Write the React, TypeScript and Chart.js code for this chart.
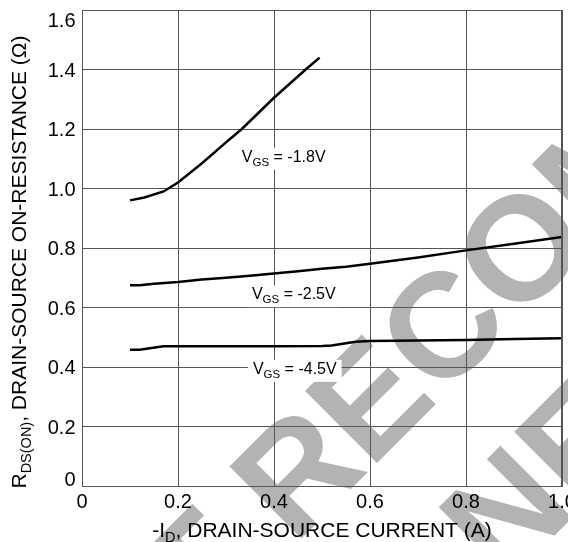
import React, { useEffect, useRef } from 'react';
import { Chart, registerables } from 'chart.js';

Chart.register(...registerables);

// ---- data ----
const xTicks = [0, 0.2, 0.4, 0.6, 0.8, 1.0];
const yTicks = [0, 0.2, 0.4, 0.6, 0.8, 1.0, 1.2, 1.4, 1.6];

const id18 = [0.1, 0.13, 0.17, 0.2, 0.25, 0.3, 0.333, 0.4, 0.466, 0.495];
const r18 = [0.96, 0.97, 0.99, 1.02, 1.085, 1.155, 1.2, 1.305, 1.4, 1.44];

const id25 = [0.1, 0.12, 0.15, 0.2, 0.25, 0.3, 0.35, 0.4, 0.45, 0.5, 0.55, 0.6, 0.7, 0.8, 0.9, 1.0];
const r25 = [0.675, 0.675, 0.68, 0.686, 0.694, 0.7, 0.707, 0.714, 0.722, 0.73, 0.737, 0.747, 0.768, 0.792, 0.814, 0.837];

const id45 = [0.1, 0.12, 0.17, 0.25, 0.3, 0.4, 0.5, 0.52, 0.57, 0.6, 0.7, 0.8, 0.9, 1.0];
const r45 = [0.458, 0.458, 0.47, 0.47, 0.47, 0.47, 0.471, 0.472, 0.485, 0.487, 0.489, 0.491, 0.494, 0.497];

const seriesNames = ['VGS = -1.8V', 'VGS = -2.5V', 'VGS = -4.5V'];
const curveLabels = [
  { main: 'V', sub: 'GS', rest: ' = -1.8V', x: 0.333, y: 1.09 },
  { main: 'V', sub: 'GS', rest: ' = -2.5V', x: 0.354, y: 0.628 },
  { main: 'V', sub: 'GS', rest: ' = -4.5V', x: 0.356, y: 0.377 },
];

const xTitle = [
  { t: '-I', sub: false },
  { t: 'D', sub: true },
  { t: ', DRAIN-SOURCE CURRENT (A)', sub: false },
];
const yTitle = [
  { t: 'R', sub: false },
  { t: 'DS(ON)', sub: true },
  { t: ', DRAIN-SOURCE ON-RESISTANCE (\u03A9)', sub: false },
];

const watermarkLines = ['NOT RECOMMENDED', 'FOR NEW DESIGN'];

const FAMILY = "'Liberation Sans', Arial, Helvetica, sans-serif";

const fmt = (v: number) => (Math.abs(v) < 1e-9 ? '0' : v.toFixed(1));

type Part = { t: string; sub: boolean };

function partsWidth(ctx: CanvasRenderingContext2D, parts: Part[], size: number, subSize: number) {
  let w = 0;
  for (const p of parts) {
    ctx.font = `${p.sub ? subSize : size}px ${FAMILY}`;
    w += ctx.measureText(p.t).width;
  }
  return w;
}

function drawParts(ctx: CanvasRenderingContext2D, parts: Part[], x: number, y: number, size: number, subSize: number, subShift: number) {
  let cx = x;
  for (const p of parts) {
    ctx.font = `${p.sub ? subSize : size}px ${FAMILY}`;
    ctx.fillText(p.t, cx, p.sub ? y + subShift : y);
    cx += ctx.measureText(p.t).width;
  }
  return cx - x;
}

const watermarkPlugin = {
  id: 'watermark',
  beforeDraw(chart: any) {
    const ctx: CanvasRenderingContext2D = chart.ctx;
    ctx.save();
    ctx.fillStyle = '#b3b3b3';
    ctx.font = `bold 148px ${FAMILY}`;
    ctx.textBaseline = 'alphabetic';
    ctx.textAlign = 'left';
    const r2 = Math.SQRT2;
    // line 1: baseline along x+y = 824, 'RECOMMENDED' starting at s = -177.5
    const s1 = -177.5 - ctx.measureText('NOT ').width;
    const center = s1 + ctx.measureText(watermarkLines[0]).width / 2;
    const s2 = center - ctx.measureText(watermarkLines[1]).width / 2;
    const place = (k: number, s: number, text: string) => {
      ctx.save();
      ctx.translate((k + s * r2) / 2, (k - s * r2) / 2);
      ctx.rotate(-Math.PI / 4);
      ctx.fillText(text, 0, 0);
      ctx.restore();
    };
    place(824, s1, watermarkLines[0]);
    place(1074, s2, watermarkLines[1]);
    ctx.restore();
  },
};

const annotPlugin = {
  id: 'annot',
  afterDraw(chart: any) {
    const ctx: CanvasRenderingContext2D = chart.ctx;
    const xs = chart.scales.x;
    const ys = chart.scales.y;
    const area = chart.chartArea;
    ctx.save();
    ctx.fillStyle = '#000';
    ctx.textAlign = 'left';
    ctx.textBaseline = 'alphabetic';

    // right border heavier
    ctx.strokeStyle = '#555';
    ctx.lineWidth = 2;
    ctx.beginPath();
    ctx.moveTo(Math.round(area.right), area.top);
    ctx.lineTo(Math.round(area.right), area.bottom);
    ctx.stroke();

    // curve labels
    for (const l of curveLabels) {
      const px = xs.getPixelForValue(l.x);
      const py = ys.getPixelForValue(l.y);
      const parts: Part[] = [
        { t: l.main, sub: false },
        { t: l.sub, sub: true },
        { t: l.rest, sub: false },
      ];
      const w = partsWidth(ctx, parts, 16, 11.5);
      ctx.fillStyle = '#fff';
      ctx.fillRect(px - 5, py - 14, w + 10, 22);
      ctx.fillStyle = '#000';
      drawParts(ctx, parts, px, py, 16, 11.5, 4);
    }

    // y tick labels
    ctx.font = `20px ${FAMILY}`;
    ctx.textAlign = 'right';
    const maxY = yTicks[yTicks.length - 1];
    for (const v of yTicks) {
      const p = ys.getPixelForValue(v);
      let base = p + 7.2;
      if (v === maxY) base = p + 17.3;
      else if (v === 0) base = p;
      ctx.fillText(fmt(v), area.left - 6.5, base);
    }
    ctx.textAlign = 'left';

    // x title
    const cxm = (area.left + area.right) / 2;
    const wx = partsWidth(ctx, xTitle, 21, 14.5);
    drawParts(ctx, xTitle, cxm - wx / 2, 528.5, 21, 14.5, 5);

    // y title
    const cym = 254;
    const wy = partsWidth(ctx, yTitle, 21, 14.5);
    ctx.save();
    ctx.translate(18, cym);
    ctx.rotate(-Math.PI / 2);
    drawParts(ctx, yTitle, -wy / 2, 0, 21, 14.5, 5);
    ctx.restore();

    ctx.restore();
  },
};

export default function App() {
  const ref = useRef<HTMLCanvasElement | null>(null);

  useEffect(() => {
    if (!ref.current) return;
    const mk = (xs: number[], ys: number[]) => xs.map((x, i) => ({ x, y: ys[i] }));
    const lineStyle = {
      borderColor: '#000',
      borderWidth: 2.5,
      pointRadius: 0,
      tension: 0,
      fill: false,
    };
    const chart = new Chart(ref.current, {
      type: 'line',
      data: {
        datasets: [
          { label: seriesNames[0], data: mk(id18, r18), ...lineStyle },
          { label: seriesNames[1], data: mk(id25, r25), ...lineStyle },
          { label: seriesNames[2], data: mk(id45, r45), ...lineStyle },
        ],
      },
      options: {
        animation: false,
        responsive: false,
        devicePixelRatio: 1,
        layout: { padding: { left: 74, top: 2, right: 46, bottom: 24 } },
        plugins: { legend: { display: false }, tooltip: { enabled: false } },
        scales: {
          x: {
            type: 'linear',
            min: 0,
            max: 1,
            afterBuildTicks: (s: any) => {
              s.ticks = xTicks.map((v) => ({ value: v }));
            },
            ticks: {
              callback: (v: any) => fmt(Number(v)),
              color: '#000',
              font: { family: FAMILY, size: 20 },
              padding: 4,
              maxRotation: 0,
              autoSkip: false,
            },
            grid: { color: '#555', lineWidth: 1, drawTicks: false },
            border: { display: true, color: '#555', width: 1 },
          },
          y: {
            type: 'linear',
            min: 0,
            max: 1.6,
            afterBuildTicks: (s: any) => {
              s.ticks = yTicks.map((v) => ({ value: v }));
            },
            ticks: { display: false },
            grid: { color: '#555', lineWidth: 1, drawTicks: false },
            border: { display: true, color: '#555', width: 1 },
          },
        },
      },
      plugins: [watermarkPlugin, annotPlugin],
    } as any);
    return () => chart.destroy();
  }, []);

  return (
    <div
      style={{
        position: 'fixed',
        left: 8,
        top: 8,
        width: 560,
        height: 534,
        overflow: 'hidden',
        background: '#fff',
      }}
    >
      <canvas ref={ref} width={600} height={534} style={{ display: 'block' }} />
    </div>
  );
}
